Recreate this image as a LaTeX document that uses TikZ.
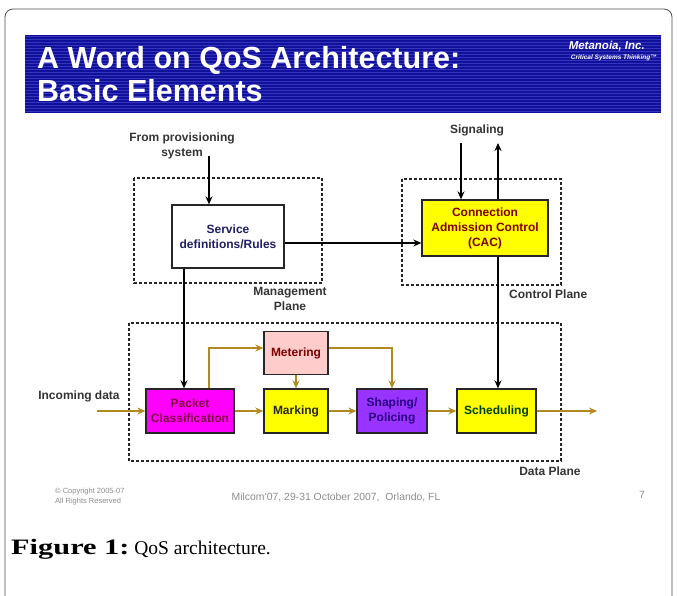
\documentclass[tikz,border=0pt]{standalone}
\usepackage{fontspec}
\setmainfont{Liberation Serif}
\setsansfont{Liberation Sans}
\usetikzlibrary{positioning, arrows.meta}

\definecolor{slideblue}{HTML}{10109A}
\definecolor{stripeblue}{HTML}{3434BC}
\definecolor{flowgold}{HTML}{B08A20}
\definecolor{boxyellow}{HTML}{FFFF00}
\definecolor{boxmagenta}{HTML}{FF00FF}
\definecolor{meterpink}{HTML}{FFCCCC}
\definecolor{shapepurple}{HTML}{9933FF}
\definecolor{darkred}{HTML}{800000}
\definecolor{maroon}{HTML}{800040}
\definecolor{navytext}{HTML}{1F1F66}
\definecolor{violettext}{HTML}{2A0080}
\definecolor{greentext}{HTML}{004000}

\begin{document}
\begin{tikzpicture}[
        x=1pt, y=-1pt,
        >={Stealth[length=8pt,width=7pt]},
        on grid,
        font=\sffamily\bfseries\fontsize{12}{15}\selectfont,
        plane/.style={draw=black!85, line width=1.5pt, dash pattern=on 3pt off 2pt},
        block/.style={draw=black!85, line width=1.3pt, align=center, minimum height=44pt, inner sep=2pt},
        flow/.style={->, draw=flowgold, line width=1.3pt},
        ctrl/.style={->, draw=black, line width=1.3pt},
        lbl/.style={align=center, text=black!80, inner sep=1pt},
        foot/.style={font=\sffamily\fontsize{10.4}{11}\selectfont, text=black!45, inner sep=0pt}
    ]
    \useasboundingbox (0,0) rectangle (677,595);
    \draw[black!70, line width=0.8pt, rounded corners=8pt] (5,640) -- (5,9) -- (672,9) -- (672,640);

    % slide title bar
    \fill[slideblue] (25,35) rectangle (661,113);
    \foreach \y in {36,39,...,112}
        \draw[stripeblue, line width=0.6pt] (25,\y) -- (661,\y);
    \node[anchor=north west, align=left, inner sep=0pt, text=white,
          font=\sffamily\bfseries\fontsize{30.5}{33}\selectfont] (title) at (37,46)
          {A Word on QoS Architecture:\\Basic Elements};
    \node[anchor=north east, inner sep=0pt, text=white,
          font=\sffamily\bfseries\itshape\fontsize{11.5}{12}\selectfont] (company) at (645,41) {Metanoia, Inc.};
    \node[anchor=north east, inner sep=0pt, text=white,
          font=\sffamily\bfseries\itshape\fontsize{6.5}{7}\selectfont] (motto) at (657,55) {Critical Systems Thinking™};

    % planes
    \draw[plane] (134,178) rectangle (322,283);
    \draw[plane] (402,179) rectangle (561,285);
    \draw[plane] (129,323) rectangle (561,461);
    \node[lbl] (mgmt) at (290,299) {Management\\Plane};
    \node[lbl, anchor=west] (ctrlplane) at (508,294) {Control Plane};
    \node[lbl] (dataplane) at (550,471) {Data Plane};

    % management and control
    \node[lbl] (prov) at (182,145.5) {From provisioning\\system};
    \node[lbl] (sig) at (477,130) {Signaling};
    \node[block, fill=white, text=navytext, minimum width=112pt, minimum height=63pt] (rules) at (228,236.5)
        {Service\\definitions/Rules};
    \node[block, fill=boxyellow, text=darkred, minimum width=126pt, minimum height=56pt] (cac) at (485,228)
        {Connection\\Admission Control\\(CAC)};

    % data path
    \node[lbl] (incoming) at (79,396) {Incoming data};
    \node[block, fill=boxmagenta, text=maroon, minimum width=88pt] (classify) at (190,411) {Packet\\Classification};
    \node[block, fill=boxyellow, text=black!85, minimum width=64pt, right=106pt of classify] (mark) {Marking};
    \node[block, fill=shapepurple, text=violettext, minimum width=70pt, right=96pt of mark] (shape) {Shaping/\\Policing};
    \node[block, fill=boxyellow, text=greentext, minimum width=79pt, right=104.5pt of shape] (sched) {Scheduling};
    \node[block, fill=meterpink, text=darkred, minimum width=64pt, minimum height=43pt, above=58pt of mark] (meter) {Metering};

    \coordinate (provout) at (209,156);
    \coordinate (sigin) at (461,143);
    \coordinate (sigout) at (498,143);
    \coordinate (datain) at (97,411);
    \coordinate (dataout) at (597,411);

    \draw[ctrl] (provout) -- (provout |- rules.north);
    \draw[ctrl] (sigin) -- (sigin |- cac.north);
    \draw[ctrl] (sigout |- cac.north) -- (sigout);
    \draw[ctrl] (rules.east |- 0,243) -- (cac.west |- 0,243);
    \draw[ctrl] (rules.south -| 184,0) -- (classify.north -| 184,0);
    \draw[ctrl] (cac.south -| sigout) -- (sched.north -| sigout);

    \draw[flow] (datain) -- (classify.west);
    \draw[flow] (classify.north -| 209,0) |- (meter.west |- 0,348);
    \draw[flow] (meter.south) -- (mark.north);
    \draw[flow] (meter.east |- 0,348) -| (shape.north);
    \draw[flow] (classify) -- (mark);
    \draw[flow] (mark) -- (shape);
    \draw[flow] (shape) -- (sched);
    \draw[flow] (sched) -- (dataout);

    % slide footer and caption
    \node[foot, align=left, anchor=west, font=\sffamily\fontsize{7.5}{10}\selectfont] (copy) at (55,497)
        {© Copyright 2005-07\\All Rights Reserved};
    \node[foot] (venue) at (336,497) {Milcom'07, 29-31 October 2007,\ \ Orlando, FL};
    \node[foot] (page) at (642,495) {7};
    \node[anchor=west, inner sep=0pt, font=\rmfamily\fontsize{19.5}{24}\selectfont] (caption) at (11,549)
        {\scalebox{1.38}[1]{\fontsize{22}{24}\selectfont\textbf{Figure 1:}} QoS architecture.};
\end{tikzpicture}
\end{document}
